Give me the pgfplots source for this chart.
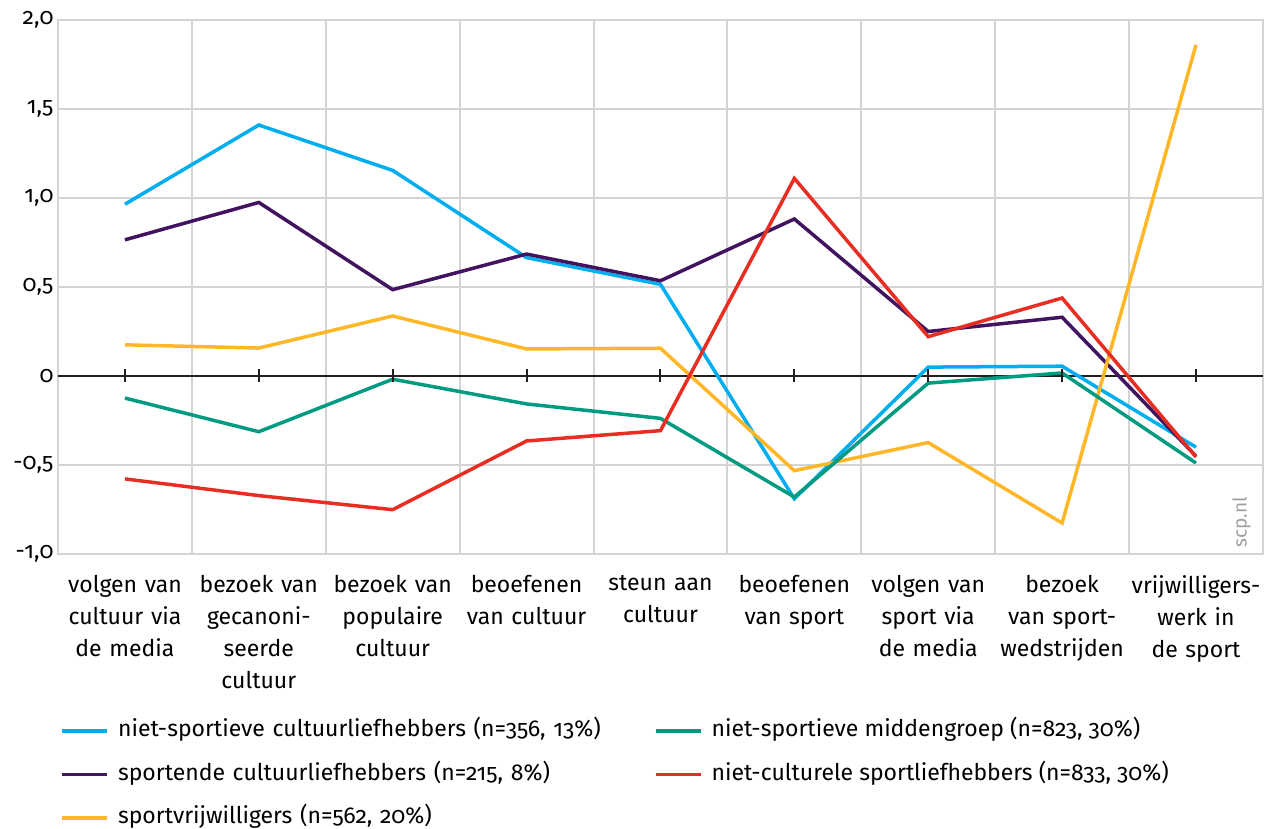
\documentclass[border=0pt]{standalone}
\usepackage{fontspec}
\setmainfont{Fira Sans}[Numbers=OldStyle]
\usepackage{pgfplots}
\pgfplotsset{compat=1.18}
\definecolor{cblue}{RGB}{0,174,239}
\definecolor{cpurple}{RGB}{66,20,95}
\definecolor{cyellow}{RGB}{255,183,39}
\definecolor{cgreen}{RGB}{0,155,128}
\definecolor{cred}{RGB}{232,46,35}
\definecolor{gridgray}{RGB}{212,212,212}
\definecolor{zerocol}{RGB}{35,31,32}
\begin{document}
\begin{tikzpicture}[font=\fontsize{23}{32}\selectfont]
\path[use as bounding box] (-58pt,-275pt) rectangle (1219pt,554pt);
\begin{axis}[
  at={(0pt,0pt)}, anchor=south west,
  scale only axis, width=1205pt, height=534pt,
  xmin=-0.5, xmax=8.5, ymin=-1, ymax=2,
  xtick={0,1,2,3,4,5,6,7,8},
  xticklabels={
    {volgen van\\cultuur via\\de media},
    {bezoek van\\gecanoni-\\seerde\\cultuur},
    {bezoek van\\populaire\\cultuur},
    {beoefenen\\van cultuur},
    {steun aan\\cultuur},
    {beoefenen\\van sport},
    {volgen van\\sport via\\de media},
    {bezoek\\van sport-\\wedstrijden},
    {vrijwilligers-\\werk in\\de sport}},
  minor xtick={-0.5,0.5,1.5,2.5,3.5,4.5,5.5,6.5,7.5,8.5},
  xminorgrids=true, xmajorgrids=false, ymajorgrids=true,
  ytick={-1,-0.5,0,0.5,1,1.5,2},
  yticklabels={{-1,0},{-0,5},0,{0,5},{1,0},{1,5},{2,0}},
  major tick length=0pt, minor tick length=0pt,
  axis line style={draw=gridgray, line width=2pt},
  grid style={draw=gridgray, line width=2pt},
  minor grid style={draw=gridgray, line width=2pt},
  xticklabel style={align=center, text width=140pt, font=\fontsize{23}{32}\selectfont, yshift=-18pt},
  yticklabel style={anchor=east, font=\fontsize{23}{32}\selectfont, xshift=-1pt},
  legend cell align=left,
  legend columns=2,
  legend image code/.code={\draw[#1, line cap=butt] (0pt,0pt) -- (45pt,0pt);},
  legend style={draw=none, fill=none, at={(-0.0005,-0.3065)}, anchor=north west,
    font=\fontsize{23}{32}\selectfont,
    row sep=21.5pt,
    /tikz/every odd column/.append style={column sep=9pt},
    nodes={inner sep=0pt, text height=17pt, text depth=5pt},
    /tikz/column 2/.style={text width=518pt, column sep=18pt}},
]
\addlegendimage{cblue, line width=3.5pt}
\addlegendentry{niet-sportieve cultuurliefhebbers (n=356, 13\%)}
\addlegendimage{cgreen, line width=3.5pt}
\addlegendentry{niet-sportieve middengroep (n=823, 30\%)}
\addlegendimage{cpurple, line width=3.5pt}
\addlegendentry{sportende cultuurliefhebbers (n=215, 8\%)}
\addlegendimage{cred, line width=3.5pt}
\addlegendentry{niet-culturele sportliefhebbers (n=833, 30\%)}
\addlegendimage{cyellow, line width=3.5pt}
\addlegendentry{sportvrijwilligers (n=562, 20\%)}

\addplot[zerocol, line width=2.2pt, forget plot] coordinates {(-0.5,0) (8.5,0)};
\addplot[only marks, mark=|, mark size=6.5pt, mark options={line width=2pt, draw=zerocol}, forget plot]
  coordinates {(0,0) (1,0) (2,0) (3,0) (4,0) (5,0) (6,0) (7,0) (8,0)};

% blue: niet-sportieve cultuurliefhebbers
\addplot[cblue, line width=3.5pt, forget plot] coordinates {
  (0,0.965) (1,1.41) (2,1.155) (3,0.665) (4,0.515) (5,-0.69) (6,0.05) (7,0.055) (8,-0.40)};
% purple: sportende cultuurliefhebbers
\addplot[cpurple, line width=3.5pt, forget plot] coordinates {
  (0,0.765) (1,0.975) (2,0.485) (3,0.685) (4,0.535) (5,0.882) (6,0.25) (7,0.33) (8,-0.45)};
% yellow: sportvrijwilligers
\addplot[cyellow, line width=3.5pt, forget plot] coordinates {
  (0,0.175) (1,0.157) (2,0.337) (3,0.152) (4,0.156) (5,-0.532) (6,-0.374) (7,-0.826) (8,1.86)};
% green: niet-sportieve middengroep
\addplot[cgreen, line width=3.5pt, forget plot] coordinates {
  (0,-0.124) (1,-0.313) (2,-0.018) (3,-0.157) (4,-0.238) (5,-0.68) (6,-0.04) (7,0.017) (8,-0.489)};
% red: niet-culturele sportliefhebbers
\addplot[cred, line width=3.5pt, forget plot] coordinates {
  (0,-0.578) (1,-0.672) (2,-0.751) (3,-0.365) (4,-0.307) (5,1.11) (6,0.221) (7,0.438) (8,-0.455)};

\node[rotate=90, text=gray!75, font=\fontsize{19}{19}\selectfont] at (axis cs:8.34,-0.82) {scp.nl};
\end{axis}
\end{tikzpicture}
\end{document}
